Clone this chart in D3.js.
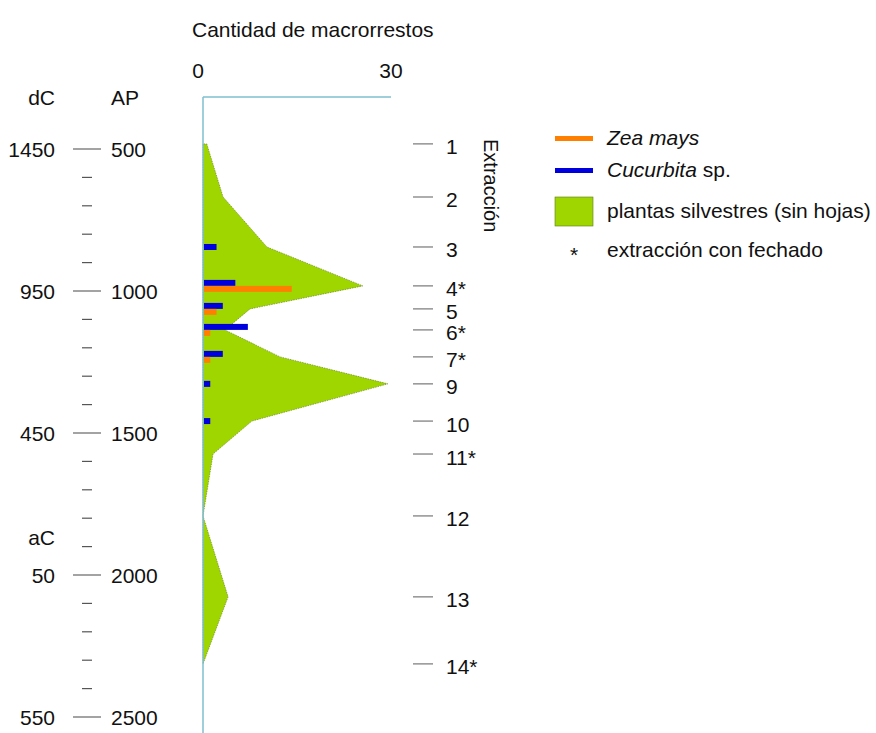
<!DOCTYPE html>
<html>
<head>
<meta charset="utf-8">
<script src="https://cdn.jsdelivr.net/npm/d3@7"></script>
<style>
  body { margin: 0; background: #fff; }
  text { font-family: "Liberation Sans", Arial, sans-serif; fill: #111; }
</style>
</head>
<body>
<svg id="chart" width="876" height="733"></svg>
<script>
// extraction labels and their position in years AP
var extractions = ["1", "2", "3", "4*", "5", "6*", "7*", "9", "10", "11*", "12", "13", "14*"];
var extractionAP = [482, 669, 845, 982, 1063, 1137, 1232, 1327, 1458, 1574, 1792, 2077, 2313];

// counts of macro-remains per extraction
var silvestres = [0.6, 3.2, 10.2, 25.5, 7.5, 3.5, 12.3, 29.5, 7.8, 1.6, 0, 4, 0];
var cucurbita = [0, 0, 2, 5, 3, 7, 3, 1, 1, 0, 0, 0, 0];
var zeaMays = [0, 0, 0, 14, 2, 1, 1, 0, 0, 0, 0, 0, 0];

// time axis labels
var apTicks = [500, 1000, 1500, 2000, 2500];
var calLabels = ["1450", "950", "450", "50", "550"];
var countTicks = [0, 30];

var svg = d3.select("#chart");

var x = d3.scaleLinear().domain([0, 30]).range([203, 391]);
var y = d3.scaleLinear().domain([500, 2500]).range([149, 717]);

var rows = extractions.map(function(e, i) {
    return {name: e, ap: extractionAP[i], sil: silvestres[i], cuc: cucurbita[i], zea: zeaMays[i]};
});

// green area of wild plants
var area = d3.area()
    .x0(x(0))
    .x1(function(d) { return x(d.sil); })
    .y(function(d) { return y(d.ap); });

svg.append("path")
    .datum(rows)
    .attr("d", area)
    .attr("fill", "#9fd600")
    .attr("stroke", "#5d7a1c")
    .attr("stroke-width", 0.6)
    .attr("stroke-dasharray", "1.5,1");

// bars: Cucurbita above the extraction line, Zea below
var barH = 6;
svg.selectAll("rect.cuc")
    .data(rows.filter(function(d) { return d.cuc > 0; }))
    .enter()
    .append("rect")
    .attr("class", "cuc")
    .attr("x", x(0) + 1)
    .attr("y", function(d) { return d.zea > 0 ? y(d.ap) - barH : y(d.ap) - barH / 2; })
    .attr("width", function(d) { return x(d.cuc) - x(0); })
    .attr("height", barH)
    .attr("fill", "#0000dd");

svg.selectAll("rect.zea")
    .data(rows.filter(function(d) { return d.zea > 0; }))
    .enter()
    .append("rect")
    .attr("class", "zea")
    .attr("x", x(0) + 1)
    .attr("y", function(d) { return y(d.ap); })
    .attr("width", function(d) { return x(d.zea) - x(0); })
    .attr("height", barH)
    .attr("fill", "#ff8000");

// count axis (top + vertical base line)
svg.append("line")
    .attr("x1", x(0)).attr("x2", x(30))
    .attr("y1", 97).attr("y2", 97)
    .attr("stroke", "#80bfd0").attr("stroke-width", 1.5);
svg.append("line")
    .attr("x1", x(0)).attr("x2", x(0))
    .attr("y1", 97).attr("y2", 733)
    .attr("stroke", "#80bfd0").attr("stroke-width", 1.5);

svg.selectAll("text.count")
    .data(countTicks)
    .enter()
    .append("text")
    .attr("class", "count")
    .attr("x", function(d) { return x(d) + (d === 0 ? -5 : 0); })
    .attr("y", 78)
    .attr("text-anchor", "middle")
    .attr("font-size", "21px")
    .text(function(d) { return d; });

svg.append("text")
    .attr("x", 192)
    .attr("y", 37)
    .attr("font-size", "21px")
    .text("Cantidad de macrorrestos");

// time axis on the left
svg.selectAll("line.minor")
    .data(d3.range(600, 2500, 100).filter(function(d) { return d % 500 !== 0; }))
    .enter()
    .append("line")
    .attr("class", "minor")
    .attr("x1", 82).attr("x2", 92)
    .attr("y1", function(d) { return y(d); })
    .attr("y2", function(d) { return y(d); })
    .attr("stroke", "#555")
    .attr("stroke-width", 1.2);

svg.selectAll("line.major")
    .data(apTicks)
    .enter()
    .append("line")
    .attr("class", "major")
    .attr("x1", 73).attr("x2", 101)
    .attr("y1", function(d) { return y(d); })
    .attr("y2", function(d) { return y(d); })
    .attr("stroke", "#666")
    .attr("stroke-width", 1.2);

svg.selectAll("text.ap")
    .data(apTicks)
    .enter()
    .append("text")
    .attr("class", "ap")
    .attr("x", 111)
    .attr("y", function(d) { return y(d) + 7.5; })
    .attr("font-size", "21px")
    .text(function(d) { return d; });

svg.selectAll("text.cal")
    .data(apTicks)
    .enter()
    .append("text")
    .attr("class", "cal")
    .attr("x", 55)
    .attr("y", function(d) { return y(d) + 7.5; })
    .attr("text-anchor", "end")
    .attr("font-size", "21px")
    .text(function(d, i) { return calLabels[i]; });

svg.append("text").attr("x", 55).attr("y", 105).attr("text-anchor", "end")
    .attr("font-size", "21px").text("dC");
svg.append("text").attr("x", 111).attr("y", 105)
    .attr("font-size", "21px").text("AP");
svg.append("text").attr("x", 55).attr("y", 545).attr("text-anchor", "end")
    .attr("font-size", "21px").text("aC");

// extraction ticks on the right
svg.selectAll("line.ext")
    .data(rows)
    .enter()
    .append("line")
    .attr("class", "ext")
    .attr("x1", 413).attr("x2", 433)
    .attr("y1", function(d) { return y(d.ap); })
    .attr("y2", function(d) { return y(d.ap); })
    .attr("stroke", "#777")
    .attr("stroke-width", 1.2);

svg.selectAll("text.ext")
    .data(rows)
    .enter()
    .append("text")
    .attr("class", "ext")
    .attr("x", 446)
    .attr("y", function(d) { return y(d.ap) + 10.5; })
    .attr("font-size", "21px")
    .text(function(d) { return d.name; });

svg.append("text")
    .attr("transform", "translate(484,139) rotate(90)")
    .attr("font-size", "20px")
    .text("Extracción");

// legend
var legend = svg.append("g");
legend.append("rect").attr("x", 555).attr("y", 136).attr("width", 38).attr("height", 5).attr("fill", "#ff8000");
legend.append("text").attr("x", 607).attr("y", 145).attr("font-size", "21px")
    .attr("font-style", "italic").text("Zea mays");

legend.append("rect").attr("x", 555).attr("y", 168).attr("width", 38).attr("height", 5).attr("fill", "#0000dd");
var cucText = legend.append("text").attr("x", 607).attr("y", 177).attr("font-size", "21px");
cucText.append("tspan").attr("font-style", "italic").text("Cucurbita");
cucText.append("tspan").text(" sp.");

legend.append("rect").attr("x", 555).attr("y", 197).attr("width", 38).attr("height", 29)
    .attr("fill", "#9fd600").attr("stroke", "#5d7a1c").attr("stroke-width", 0.6);
legend.append("text").attr("x", 607).attr("y", 218).attr("font-size", "21px")
    .text("plantas silvestres (sin hojas)");

legend.append("text").attr("x", 574).attr("y", 262).attr("text-anchor", "middle")
    .attr("font-size", "21px").text("*");
legend.append("text").attr("x", 607).attr("y", 257).attr("font-size", "21px")
    .text("extracción con fechado");
</script>
</body>
</html>
